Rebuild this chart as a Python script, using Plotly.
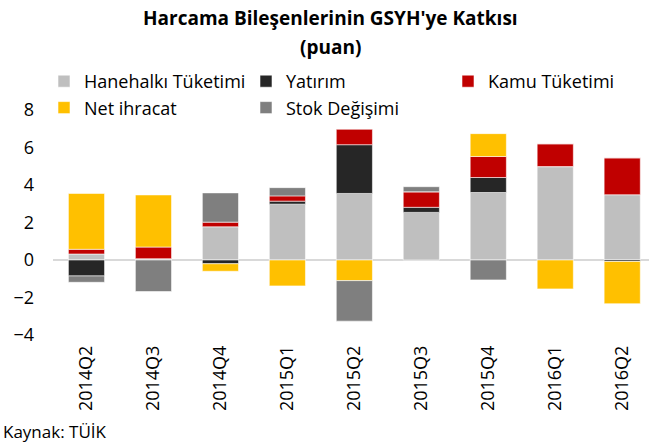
import plotly.graph_objects as go

quarters = ["2014Q2", "2014Q3", "2014Q4", "2015Q1", "2015Q2", "2015Q3", "2015Q4", "2016Q1", "2016Q2"]
hanehalki = [0.32, 0.07, 1.77, 2.98, 3.55, 2.54, 3.60, 4.98, 3.48]
yatirim = [-0.85, 0.0, -0.20, 0.16, 2.60, 0.27, 0.80, 0.0, -0.08]
kamu = [0.25, 0.62, 0.25, 0.28, 0.82, 0.83, 1.12, 1.22, 1.97]
net_ihracat = [2.98, 2.78, -0.40, -1.38, -1.10, 0.0, 1.22, -1.54, -2.25]
stok = [-0.34, -1.68, 1.56, 0.44, -2.16, 0.27, -1.06, 0.0, 0.0]

series = [
    ("Hanehalkı Tüketimi", hanehalki, "#BFBFBF"),
    ("Yatırım", yatirim, "#262626"),
    ("Kamu Tüketimi", kamu, "#C00000"),
    ("Net ihracat", net_ihracat, "#FFC000"),
    ("Stok Değişimi", stok, "#7F7F7F"),
]

FONT = "Open Sans, Calibri, sans-serif"

fig = go.Figure()
for name, vals, color in series:
    fig.add_trace(go.Bar(
        x=quarters, y=vals, name=name,
        marker=dict(color=color, line=dict(color="rgba(255,255,255,0.7)", width=0.8)),
    ))

PL, PT, PW, PH = 53, 110, 596, 225

def py(pix):
    return 1 + (PT - pix) / PH

def px(pix):
    return (pix - PL) / PW

fig.update_layout(
    width=649, height=443,
    barmode="relative",
    bargap=0.46,
    plot_bgcolor="white", paper_bgcolor="white",
    margin=dict(l=PL, r=0, t=PT, b=443 - PT - PH, autoexpand=False),
    font=dict(family=FONT, size=16, color="#000000"),
    legend=dict(
        orientation="h",
        x=px(44), xanchor="left", xref="paper",
        y=py(63), yanchor="top", yref="paper",
        entrywidth=157, entrywidthmode="pixels",
        font=dict(family=FONT, size=18, color="#000000"),
        bgcolor="rgba(0,0,0,0)",
        itemwidth=30,
    ),
    xaxis=dict(
        range=[-0.5, 8.4],
        tickangle=-90,
        showline=False, showgrid=False, ticks="",
        tickfont=dict(family=FONT, size=18),
        ticklabelstandoff=6,
    ),
    yaxis=dict(
        range=[-4, 8],
        tickvals=[-4, -2, 0, 2, 4, 6, 8],
        showgrid=False, showline=False, ticks="",
        zeroline=True, zerolinecolor="#D9D9D9", zerolinewidth=2,
        tickfont=dict(family=FONT, size=18),
        ticklabelstandoff=18,
    ),
    annotations=[
        dict(text="<b>Harcama Bileşenlerinin GSYH'ye Katkısı</b>", xref="paper", yref="paper",
             x=px(330), y=py(18), xanchor="center", yanchor="middle", showarrow=False,
             font=dict(family=FONT, size=19, color="#000000")),
        dict(text="<b>(puan)</b>", xref="paper", yref="paper",
             x=px(330), y=py(47), xanchor="center", yanchor="middle", showarrow=False,
             font=dict(family=FONT, size=19, color="#000000")),
        dict(text="Kaynak: TÜİK", xref="paper", yref="paper",
             x=px(1), y=py(431), xanchor="left", yanchor="middle",
             showarrow=False, font=dict(family=FONT, size=17, color="#000000")),
    ],
)

fig.write_html("out.html", post_script="document.body.style.margin='0';",
               config={"displayModeBar": False})
